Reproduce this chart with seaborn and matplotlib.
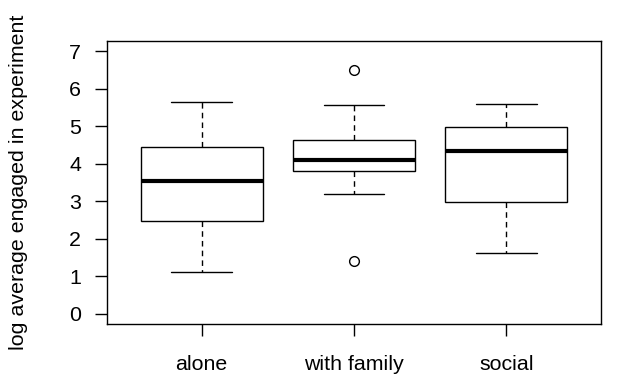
import numpy as np
import pandas as pd
import matplotlib
matplotlib.use("Agg")
import matplotlib.pyplot as plt
import seaborn as sns

# valores (resumen de cinco numeros + atipicos)
grupos = ["alone", "with family", "social"]
alone = [1.11, 2.48, 3.55, 4.45, 5.65]
with_family = [1.40, 3.19, 3.80, 3.80, 4.09, 4.64, 4.64, 5.56, 6.51]
social = [1.62, 2.97, 4.35, 4.99, 5.61]
y_ticks = [0, 1, 2, 3, 4, 5, 6, 7]

df = pd.DataFrame({
    "grupo": ["alone"] * len(alone) + ["with family"] * len(with_family) + ["social"] * len(social),
    "valor": alone + with_family + social,
})

sns.set_theme(style="ticks")
plt.rcParams["font.family"] = ["Liberation Sans", "DejaVu Sans"]

FS = 15.4
W, H = 617, 386
fig = plt.figure(figsize=(W / 100, H / 100), dpi=100)
ax = fig.add_axes([107 / W, 1 - 324 / H, (601 - 107) / W, (324 - 41) / H])

sns.boxplot(data=df, x="grupo", y="valor", order=grupos, ax=ax,
            color="white", saturation=1, linecolor="black", linewidth=1,
            width=0.8, whis=1.5,
            medianprops=dict(linewidth=3, color="black", solid_capstyle="butt"),
            whiskerprops=dict(linestyle=(0, (4, 3)), color="black"),
            capprops=dict(color="black"),
            flierprops=dict(marker="o", markerfacecolor="white", markeredgecolor="black",
                            markersize=7, markeredgewidth=1))

# limites al estilo R (4% extra)
ax.set_xlim(-0.5 - 0.12, 2.5 + 0.12)
ax.set_ylim(-0.28, 7.28)
ax.set_yticks(y_ticks)
ax.set_yticklabels([str(t) for t in y_ticks])
ax.set_xticks(range(len(grupos)))
ax.set_xticklabels(grupos)

for s in ax.spines.values():
    s.set_visible(True)
    s.set_color("black")
    s.set_linewidth(1)

ax.tick_params(axis="both", direction="out", length=8.6, width=1, color="black",
               labelsize=FS, labelcolor="black")
ax.tick_params(axis="y", pad=10)
ax.tick_params(axis="x", pad=14)
ax.set_xlabel("")
ax.set_ylabel("log average engaged in experiment", fontsize=FS, color="black")
ax.yaxis.set_label_coords((28 - 107) / (601 - 107), 0.5)

fig.savefig("out.png", dpi=100)
